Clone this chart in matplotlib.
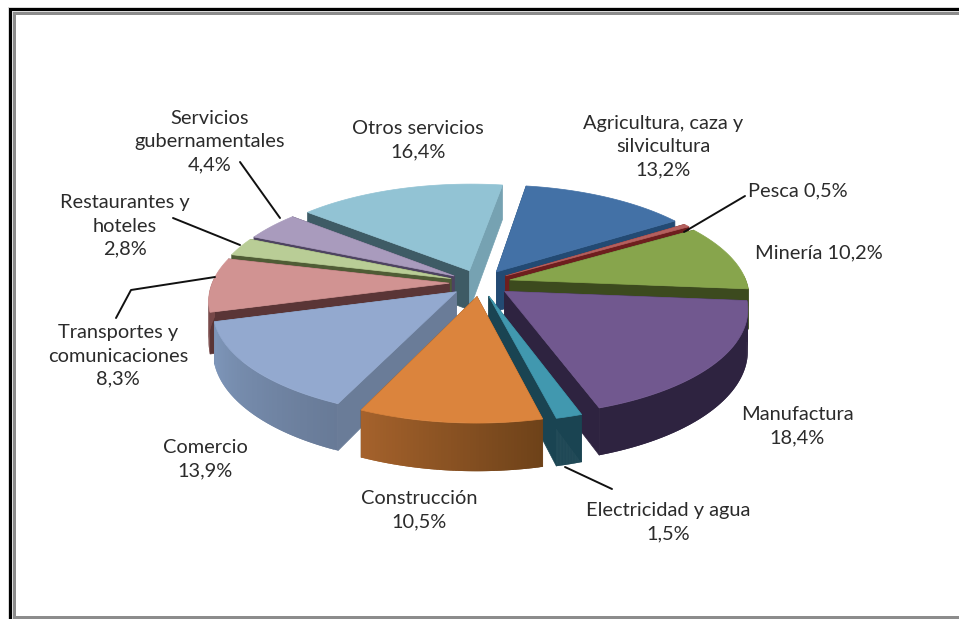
import numpy as np
import matplotlib
matplotlib.use('Agg')
import matplotlib.pyplot as plt
from matplotlib.patches import Polygon, Rectangle

# Sector shares, clockwise from the first slice
sectors = ['Agricultura, caza y\nsilvicultura', 'Pesca', 'Minería', 'Manufactura', 'Electricidad y agua',
           'Construcción', 'Comercio', 'Transportes y\ncomunicaciones', 'Restaurantes y\nhoteles',
           'Servicios\ngubernamentales', 'Otros servicios']
shares = [13.2, 0.5, 10.2, 18.4, 1.5, 10.5, 13.9, 8.3, 2.8, 4.4, 16.4]

# Colours for each slice: top, the two radial cuts, and the rim from its start to its end
top_colors = ['#4371a6', '#b4605e', '#87a54c', '#71588f', '#4198af', '#db843d',
              '#93a9cf', '#d19392', '#b9cd96', '#a99bbd', '#92c3d4']
start_cut_colors = ['#234a73', '#6e1e1e', '#3c4a1e', '#2e2340', '#1a4452', '#6e4219',
                    '#6a7c98', '#5a3536', '#4f5c35', '#4d4360', '#3e5b65']
end_cut_colors = ['#234a73', '#6e1e1e', '#3c4a1e', '#2e2340', '#1a4452', '#6e4219',
                  '#6a7c98', '#5a3536', '#4f5c35', '#4d4360', '#76a2b2']
rim_start_colors = ['#234a73', '#6e1e1e', '#3c4a1e', '#2e2340', '#1a4452', '#6e4219',
                    '#687a97', '#7a4a4a', '#4f5c35', '#4d4360', '#3e5b65']
rim_end_colors = ['#234a73', '#6e1e1e', '#3c4a1e', '#2e2340', '#1a4452', '#a5622c',
                  '#7f97bb', '#7a4a4a', '#4f5c35', '#4d4360', '#3e5b65']

# Back slices are painted first
draw_order = [10, 0, 1, 2, 9, 8, 7, 3, 4, 6, 5]

# Label placement: centre of the text block in pixels
label_centers = [(663, 147), (798, 191), (819, 253), (797, 426), (668, 522),
                 (419, 510), (205, 459), (118, 356), (125, 226), (210, 142), (418, 140)]
label_joins = ['\n', ' ', ' ', '\n', '\n', '\n', '\n', '\n', '\n', '\n', '\n']

# Leader lines in pixels
leaders = [([745, 684], [196, 232]),
           ([565, 612], [467, 489]),
           ([240, 280], [162, 218]),
           ([173, 240], [218, 245]),
           ([116, 131, 215], [318, 290, 277])]

CX, CY = 480, 283
RX, RY = 237, 103
PERSPECTIVE = 0.15
DEPTH = 40
EXPLODE = 0.13
START_DEG = 9


def project(u, v, z=0.0):
    s = 1.0 / (1.0 - PERSPECTIVE * v)
    return CX + RX * u * s, CY + RY * v * s + DEPTH * z * s


def slice_points(a0, a1, z, n=60):
    # Outer arc of an exploded slice, angles clockwise from the top of the disc
    mid = 0.5 * (a0 + a1)
    ox, oy = EXPLODE * np.sin(mid), -EXPLODE * np.cos(mid)
    t = np.linspace(a0, a1, n)
    x, y = project(ox + np.sin(t), oy - np.cos(t), z)
    ax0, ay0 = project(ox, oy, z)
    return (ax0, ay0), np.column_stack([x, y]), t


def mix(c0, c1, f):
    a = np.array(matplotlib.colors.to_rgb(c0))
    b = np.array(matplotlib.colors.to_rgb(c1))
    return tuple(a + (b - a) * f)


fig = plt.figure(figsize=(9.59, 6.19), dpi=100)
ax = fig.add_axes([0, 0, 1, 1])
ax.set_xlim(0, 959)
ax.set_ylim(619, 0)
ax.axis('off')

# Double border round the chart area
ax.add_patch(Rectangle((8, 7), 951, 612, fc='#d8d8d8', ec='none'))
ax.add_patch(Rectangle((9, 8), 950, 611, fc='black', ec='none'))
ax.add_patch(Rectangle((12, 11), 947, 608, fc='#dcdcdc', ec='none'))
ax.add_patch(Rectangle((13, 12), 946, 607, fc='#8c8c8c', ec='none'))
ax.add_patch(Rectangle((16, 15), 943, 601, fc='white', ec='none'))

total = sum(shares)
edges = np.radians(START_DEG) + 2 * np.pi * np.concatenate([[0], np.cumsum(shares)]) / total

for i in draw_order:
    a0, a1 = edges[i], edges[i + 1]
    apex_top, arc_top, angles = slice_points(a0, a1, 0)
    apex_low, arc_low, _ = slice_points(a0, a1, 1)

    # Radial cuts go first: whichever one faces away ends up behind the rim and top
    ax.add_patch(Polygon([apex_top, arc_top[0], arc_low[0], apex_low], fc=start_cut_colors[i], ec=start_cut_colors[i], lw=0.5))
    ax.add_patch(Polygon([apex_top, arc_top[-1], arc_low[-1], apex_low], fc=end_cut_colors[i], ec=end_cut_colors[i], lw=0.5))

    # Rim, only on the front half, shaded along the arc; strips overlap so no seams show
    m = len(arc_top)
    for j in range(m - 1):
        if np.cos(angles[j]) > 0.05:
            continue
        k = min(j + 2, m - 1)
        c = mix(rim_start_colors[i], rim_end_colors[i], j / (m - 2))
        ax.add_patch(Polygon([arc_top[j], arc_top[k], arc_low[k], arc_low[j]], fc=c, ec='none'))

    ax.add_patch(Polygon(np.vstack([[apex_top], arc_top]), fc=top_colors[i], ec=top_colors[i], lw=0.5))

for xs, ys in leaders:
    ax.plot(xs, ys, color='#111111', lw=1.4, solid_capstyle='round')

for name, value, join, (lx, ly) in zip(sectors, shares, label_joins, label_centers):
    text = name + join + f'{value:.1f}'.replace('.', ',') + '%'
    ax.text(lx, ly, text, ha='center', va='center', family='Lato', fontsize=14.4,
            color='#2b2b2b', linespacing=1.44)

fig.savefig('out.png', dpi=100)
